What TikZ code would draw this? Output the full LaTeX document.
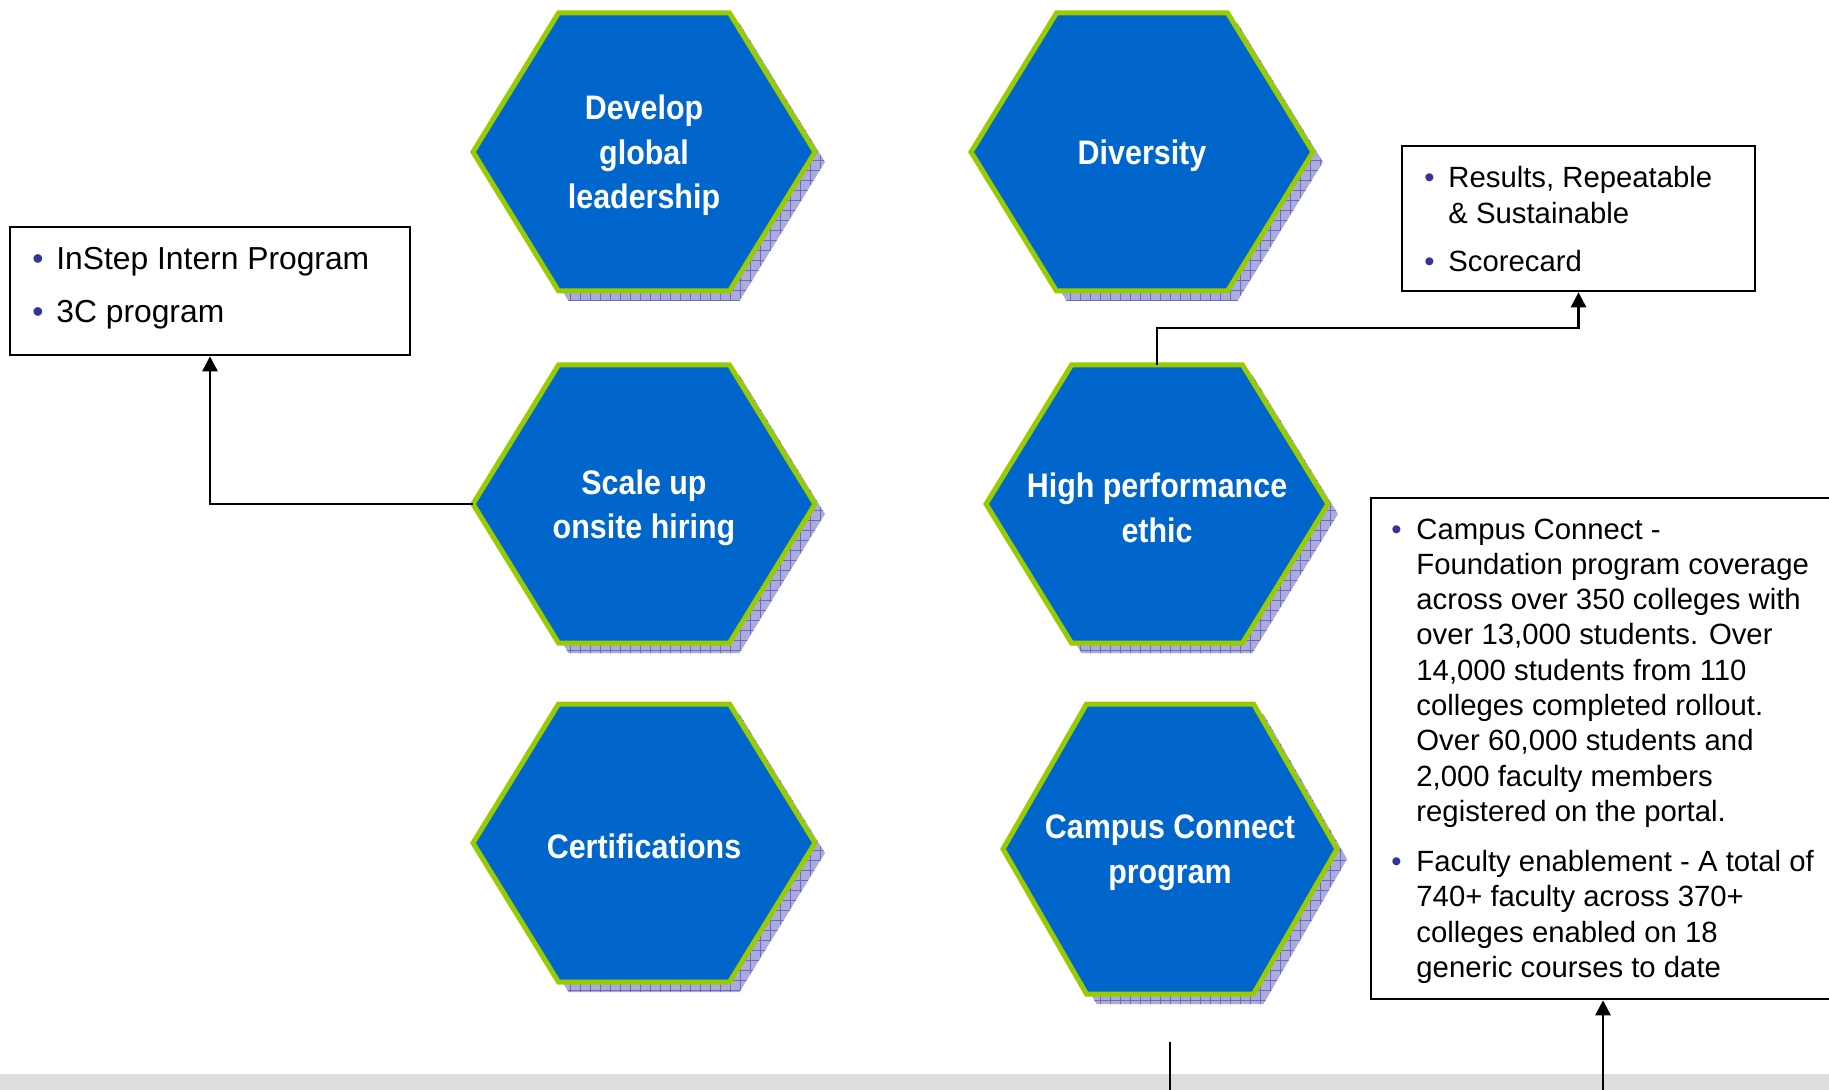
\documentclass[tikz,border=0pt]{standalone}
\usepackage{fontspec}
\setmainfont{Liberation Sans}
\newfontfamily\hexfont[FakeStretch=0.895]{Liberation Sans}
\usetikzlibrary{arrows.meta,patterns.meta}

\definecolor{hexblue}{HTML}{0066CC}
\definecolor{hexgreen}{HTML}{99CC00}
\definecolor{shadowfill}{HTML}{ABABDE}
\definecolor{shadowgrid}{HTML}{6C6CBE}
\definecolor{bulletblue}{HTML}{333399}
\definecolor{bargray}{HTML}{DDDDDD}

\newcommand{\Bul}[1]{\makebox[#1][l]{\textcolor{bulletblue}{•}}}

% name, centre, half width, half height, label
\newcommand{\Hexa}[5]{%
  \begin{scope}[shift={#2}]
    \path[HexShadow] (-#3+10,10) -- (-#3/2+10,-#4+10) -- (#3/2+10,-#4+10)
      -- (#3+10,10) -- (#3/2+10,#4+10) -- (-#3/2+10,#4+10) -- cycle;
    \path[HexFace] (-#3,0) -- (-#3/2,-#4) -- (#3/2,-#4) -- (#3,0)
      -- (#3/2,#4) -- (-#3/2,#4) -- cycle;
    \coordinate (#1-w) at (-#3,0);
    \coordinate (#1-n) at (0,-#4);
  \end{scope}
  \node[HexLabel] (#1) at #2 {#5};}

\begin{document}
\begin{tikzpicture}[x=0.5pt, y=-0.5pt, >={Triangle[length=7.5pt,width=7.5pt]}]
      \tikzset{HexShadow/.style = {fill = shadowfill,
          postaction = {pattern = {Lines[angle=0,distance=5pt,line width=0.3pt]},
            pattern color = shadowgrid},
          postaction = {pattern = {Lines[angle=90,distance=5pt,line width=0.3pt]},
            pattern color = shadowgrid}},
        HexFace/.style  = {fill = hexblue, draw = hexgreen, line width = 2.5pt},
        HexLabel/.style = {text = white, align = center, yshift = -1.8pt,
          font = \hexfont\bfseries\fontsize{17pt}{22.25pt}\selectfont},
        InfoBox/.style  = {draw, line width = 1.3pt, inner sep = 0pt},
        BoxText/.style  = {inner sep = 0pt, anchor = base west,
          font = \fontsize{14.65pt}{17.65pt}\selectfont},
        Link/.style     = {line width = 1.3pt}}
      \useasboundingbox (0,0) rectangle (1829,1090);
      \fill[bargray] (0,1074) rectangle (1829,1090);

      \Hexa{lead}{(644,152)}{171}{139}{Develop\\global\\leadership}
      \Hexa{div}{(1142,152)}{171}{139}{Diversity}
      \Hexa{scale}{(644,504)}{171}{139}{Scale up\\onsite hiring}
      \Hexa{perf}{(1157,504)}{171}{139}{High performance\\ethic}
      \Hexa{cert}{(644,843)}{171}{139}{Certifications}
      \Hexa{campus}{(1170,849)}{167}{145}{Campus Connect\\program}

      \node[InfoBox, minimum width=200pt, minimum height=64pt] (instep) at (210,291) {};
      \node[BoxText, font=\fontsize{15.9pt}{18.3pt}\selectfont] (instep-txt) at (32,270)
        {\begin{tabular}[t]{@{}l@{}l@{}}
          \Bul{12pt} & InStep Intern Program\\[8.2pt]
          \Bul{12pt} & 3C program
        \end{tabular}};
      \node[InfoBox, minimum width=176.5pt, minimum height=72.5pt] (results) at (1578.5,218.5) {};
      \node[BoxText] (results-txt) at (1424,188)
        {\begin{tabular}[t]{@{}l@{}l@{}}
          \Bul{12pt} & Results, Repeatable\\
                     & \& Sustainable\\[6.35pt]
          \Bul{12pt} & Scorecard
        \end{tabular}};
      \node[InfoBox, minimum width=232pt, minimum height=250.5pt] (ccbox) at (1603,748.5) {};
      \node[BoxText] (ccbox-txt) at (1391,539)
        {\begin{tabular}[t]{@{}l@{}l@{}}
          \Bul{12.5pt} & Campus Connect -\\
                       & Foundation program coverage\\
                       & across over 350 colleges with\\
                       & over 13,000 students. Over\\
                       & 14,000 students from 110\\
                       & colleges completed rollout.\\
                       & Over 60,000 students and\\
                       & 2,000 faculty members\\
                       & registered on the portal.\\[7.45pt]
          \Bul{12.5pt} & Faculty enablement - A total of\\
                       & 740+ faculty across 370+\\
                       & colleges enabled on 18\\
                       & generic courses to date
        \end{tabular}};

      \coordinate (cutA) at (1170,1042);
      \coordinate (cutB) at (1170,1090);
      \coordinate (cutC) at (1603,1090);
      \draw[Link, ->] (scale-w) -| (instep.south);
      \draw[Link, ->] (perf-n) -- ++(0,-37) -| (results.south);
      \draw[Link] (cutA) -- (cutB);
      \draw[Link, ->] (cutC) -- (ccbox.south);
    \end{tikzpicture}
\end{document}
